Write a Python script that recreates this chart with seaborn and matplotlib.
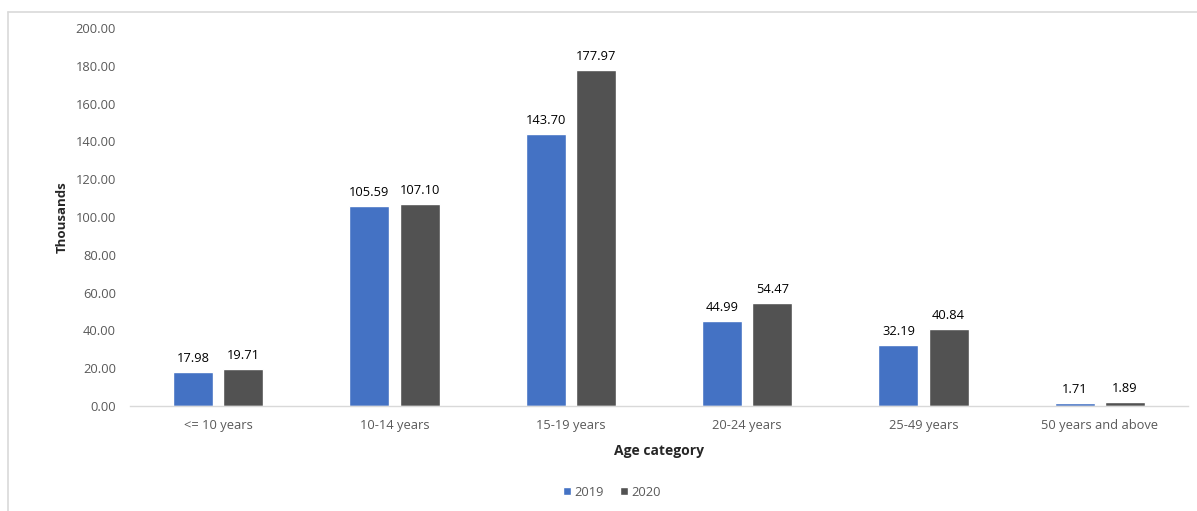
import matplotlib
matplotlib.use("Agg")
import matplotlib.pyplot as plt
import seaborn as sns
import pandas as pd
from matplotlib.lines import Line2D

categories = ["<= 10 years", "10-14 years", "15-19 years", "20-24 years", "25-49 years", "50 years and above"]
years = ["2019", "2020"]
values_2019 = [17.98, 105.59, 143.70, 44.99, 32.19, 1.71]
values_2020 = [19.71, 107.10, 177.97, 54.47, 40.84, 1.89]
yticks = [0, 20, 40, 60, 80, 100, 120, 140, 160, 180, 200]

df = pd.DataFrame({
    "Age category": categories * 2,
    "Year": [years[0]] * len(categories) + [years[1]] * len(categories),
    "Value": values_2019 + values_2020,
})

sns.set_style("white")
plt.rcParams["font.family"] = ["Open Sans", "DejaVu Sans"]

W, H = 1197, 511
fig = plt.figure(figsize=(W / 100, H / 100), dpi=100)
ax = fig.add_axes([130 / W, (H - 406) / H, (1188 - 130) / W, (406 - 28) / H])

palette = {"2019": "#4472C4", "2020": "#525252"}
sns.barplot(data=df, x="Age category", y="Value", hue="Year", palette=palette,
            width=0.568, gap=0.2, ax=ax, legend=True, saturation=1)

for c in ax.containers:
    ax.bar_label(c, fmt="%.2f", padding=5, fontsize=9.3, color="#000000")

ax.set_ylim(0, 200)
ax.set_xlim(-0.5, len(categories) - 0.5)
ax.set_yticks(yticks)
ax.set_yticklabels([f"{v:.2f}" for v in yticks])
ax.tick_params(axis="y", length=0, pad=10, labelsize=9.3, labelcolor="#595959")
ax.tick_params(axis="x", length=0, pad=9, labelsize=9.3, labelcolor="#595959")
for s in ["top", "right", "left"]:
    ax.spines[s].set_visible(False)
ax.spines["bottom"].set_color("#D9D9D9")
ax.spines["bottom"].set_linewidth(1)

ax.set_xlabel("Age category", fontsize=10, fontweight="bold", labelpad=9)
ax.set_ylabel("Thousands", fontsize=9.5, fontweight="bold", labelpad=5)

leg = fig.legend(*ax.get_legend_handles_labels(), loc="center",
                 bbox_to_anchor=(612 / W, (H - 492) / H), ncol=2, frameon=False,
                 fontsize=9.3, handlelength=0.6, handleheight=0.6, handletextpad=0.3,
                 columnspacing=1.2)
ax.get_legend().remove()
for t in leg.get_texts():
    t.set_color("#595959")

# chart frame: only top and left edges visible
fig.add_artist(Line2D([7.5 / W, 7.5 / W], [0, (H - 12) / H], transform=fig.transFigure,
                      color="#D9D9D9", linewidth=1.2))
fig.add_artist(Line2D([7.5 / W, 1], [(H - 12) / H, (H - 12) / H], transform=fig.transFigure,
                      color="#D9D9D9", linewidth=1.2))

fig.savefig("out.png", dpi=100)
